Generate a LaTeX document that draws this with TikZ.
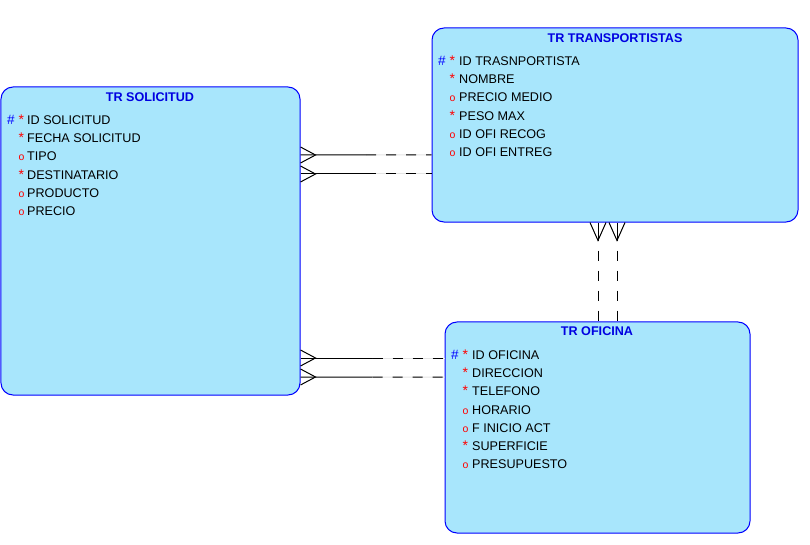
\documentclass[tikz,border=0pt]{standalone}
\usepackage{fontspec}
\setmainfont{Liberation Sans}
\usetikzlibrary{calc}
\definecolor{boxfill}{RGB}{168,230,252}
\definecolor{boxline}{RGB}{0,0,255}
\definecolor{titleblue}{RGB}{0,0,225}
\definecolor{gapgray}{RGB}{228,228,228}
\tikzset{
  entity/.style={draw=boxline, fill=boxfill, rounded corners=12bp, line width=1bp, inner sep=0pt},
  title/.style={font=\bfseries\fontsize{12.6bp}{14bp}\selectfont, text=titleblue, inner sep=0pt},
  attr/.style={font=\fontsize{12.6bp}{15bp}\selectfont, inner sep=0pt, anchor=west, text height=9bp, text depth=0pt},
  rel/.style={line width=1bp},
  reldash/.style={line width=1bp, dash pattern=on 10bp off 10bp},
  gapline/.style={line width=1bp, gapgray}
}
\newcommand{\pk}{\llap{\textcolor{boxline}{\fontsize{13.5bp}{15bp}\selectfont\#}\kern4bp}\textcolor{red}{\fontsize{14bp}{15bp}\selectfont*}}
\newcommand{\mand}{\textcolor{red}{\fontsize{14bp}{15bp}\selectfont*}}
\newcommand{\opt}{\textcolor{red}{\fontsize{10.5bp}{10bp}\selectfont o}}
\begin{document}
\begin{tikzpicture}[x=1bp, y=-1bp]
\useasboundingbox (0,0) rectangle (810,545);
% entities
\node[entity, minimum width=299bp, minimum height=308bp] (sol) at (150.5,241) {};
\node[entity, minimum width=366bp, minimum height=194bp] (tra) at (615,125) {};
\node[entity, minimum width=305bp, minimum height=211bp] (ofi) at (597.5,427.5) {};
\node[title] (sol-t) at (150,97) {TR SOLICITUD};
\node[title] (tra-t) at (615,38) {TR TRANSPORTISTAS};
\node[title] (ofi-t) at (597,331) {TR OFICINA};
% attributes
\foreach \m/\t [count=\i] in {\pk/ID SOLICITUD, \mand/FECHA SOLICITUD, \opt/TIPO, \mand/DESTINATARIO, \opt/PRODUCTO, \opt/PRECIO} {
  \node[attr] (sol-k\i) at (18.5,{120+18.2*(\i-1)}) {\m};
  \node[attr] (sol-a\i) at (27,{120+18.2*(\i-1)}) {\t};
}
\foreach \m/\t [count=\i] in {\pk/ID TRASNPORTISTA, \mand/NOMBRE, \opt/PRECIO MEDIO, \mand/PESO MAX, \opt/ID OFI RECOG, \opt/ID OFI ENTREG} {
  \node[attr] (tra-k\i) at (449.5,{61+18.2*(\i-1)}) {\m};
  \node[attr] (tra-a\i) at (459,{61+18.2*(\i-1)}) {\t};
}
\foreach \m/\t [count=\i] in {\pk/ID OFICINA, \mand/DIRECCION, \mand/TELEFONO, \opt/HORARIO, \opt/F INICIO ACT, \mand/SUPERFICIE, \opt/PRESUPUESTO} {
  \node[attr] (ofi-k\i) at (462.5,{355+18.2*(\i-1)}) {\m};
  \node[attr] (ofi-a\i) at (472,{355+18.2*(\i-1)}) {\t};
}
% relations solicitud
\foreach \y/\b [count=\i] in {155/tra, 174/tra, 358/ofi, 377/ofi} {
  \coordinate (s\i) at (sol.east |- 0,\y);
  \coordinate (e\i) at (\b.west |- 0,\y);
  \coordinate (m\i) at ($(s\i)!.5!(e\i)$);
  \draw[rel] (s\i) ++(0,-8) -- ++(15,8) -- ++(-15,8);
  \draw[rel] (s\i) -- (m\i);
  \draw[gapline] (m\i) -- (e\i);
  \draw[reldash] (m\i) -- (e\i);
}
% relations oficina
\foreach \x [count=\i] in {598, 617} {
  \coordinate (v\i) at (tra.south -| \x,0);
  \coordinate (w\i) at (ofi.north -| \x,0);
  \draw[rel] (v\i) ++(-8,0) -- ++(8,18) -- ++(8,-18);
  \draw[rel] (v\i) -- ++(0,18) coordinate (u\i);
  \draw[reldash, dash phase=10bp] (u\i) -- (w\i);
}
\end{tikzpicture}
\end{document}
